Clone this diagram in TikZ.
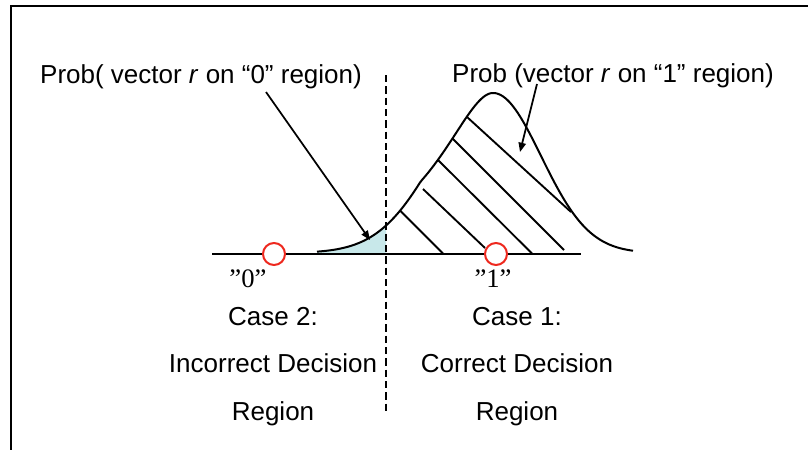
\documentclass[tikz,border=0pt]{standalone}
\usepackage{fontspec}
\setmainfont{Liberation Sans}
\newfontfamily\tms{Liberation Serif}
\usetikzlibrary{arrows.meta}
\definecolor{shadecol}{RGB}{200,232,234}
\definecolor{circred}{RGB}{238,40,30}
\begin{document}
\begin{tikzpicture}[x=0.75pt,y=-0.75pt,
  declare function={
    sl(\d)=min(5.7,4.0+0.235*\d);
    gl(\x)=253-160*exp(-((493-\x)/10)*((493-\x)/10)/(2*sl((493-\x)/10)*sl((493-\x)/10)));
    gr(\x)=253-160*exp(-((\x-493)/10)*((\x-493)/10)/(2*4.8*4.8));
  },
  lbl/.style={anchor=base,inner sep=0pt,font=\fontsize{19.5}{23}\selectfont},
  qlbl/.style={anchor=base,inner sep=0pt,font=\tms\fontsize{20}{24}\selectfont},
  heavy/.style={line width=1.5pt},
  ptr/.style={line width=1.3pt,-{Triangle[length=7pt,width=5.5pt]}},
  hatchline/.style={line width=1.4pt},
  ptcircle/.style={circle,draw=circred,fill=white,line width=1.5pt,minimum size=16.5pt,inner sep=0pt},
  divider/.style={line width=1.5pt,dash pattern=on 5.5pt off 3pt}]
\useasboundingbox (0,0) rectangle (808,450);
% frame
\draw[heavy] (11,450) -- (11,5.5) -- (808,5.5);
% shaded tail
\fill[shadecol] plot[domain=317:386,samples=40] (\x,{gl(\x)}) -- (386,253.5) -- (317,253.5) -- cycle;
% hatch lines
\draw[hatchline] (400,210.5) -- (443,253.5);
\draw[hatchline] (423,189) -- (485,248);
\draw[hatchline] (438,160) -- (532,253.5);
\draw[hatchline] (452.5,138.5) -- (564,250);
\draw[hatchline] (467,117) -- (571,212);
% curve
\draw[heavy,line join=round] plot[domain=317:493,samples=90] (\x,{gl(\x)}) -- plot[domain=493:633,samples=70] (\x,{gr(\x)});
% baseline
\draw[heavy] (212,253.5) -- (581,253.5);
% divider
\draw[divider] (386,75) -- (386,413);
% points
\node[ptcircle] (p0) at (274,254) {};
\node[ptcircle] (p1) at (496,254) {};
\node[qlbl] (q0) at (248,287) {”0”};
\node[qlbl] (q1) at (493,287) {”1”};
% labels
\node[lbl] (t0) at (201,83) {Prob( vector \textit{r} on “0” region)};
\node[lbl] (t1) at (613,82) {Prob (vector \textit{r} on “1” region)};
\node[lbl] (c2) at (273,325) {Case 2:};
\node[lbl] (i2) at (273,372) {Incorrect Decision};
\node[lbl] (r2) at (273,420) {Region};
\node[lbl] (c1) at (517,325) {Case 1:};
\node[lbl] (i1) at (517,372) {Correct Decision};
\node[lbl] (r1) at (517,420) {Region};
% pointers
\coordinate (a0s) at (266,92);
\coordinate (a0e) at (370,240);
\coordinate (a1s) at (537,84);
\coordinate (a1e) at (520,152);
\draw[ptr] (a0s) -- (a0e);
\draw[ptr] (a1s) -- (a1e);
\end{tikzpicture}
\end{document}
